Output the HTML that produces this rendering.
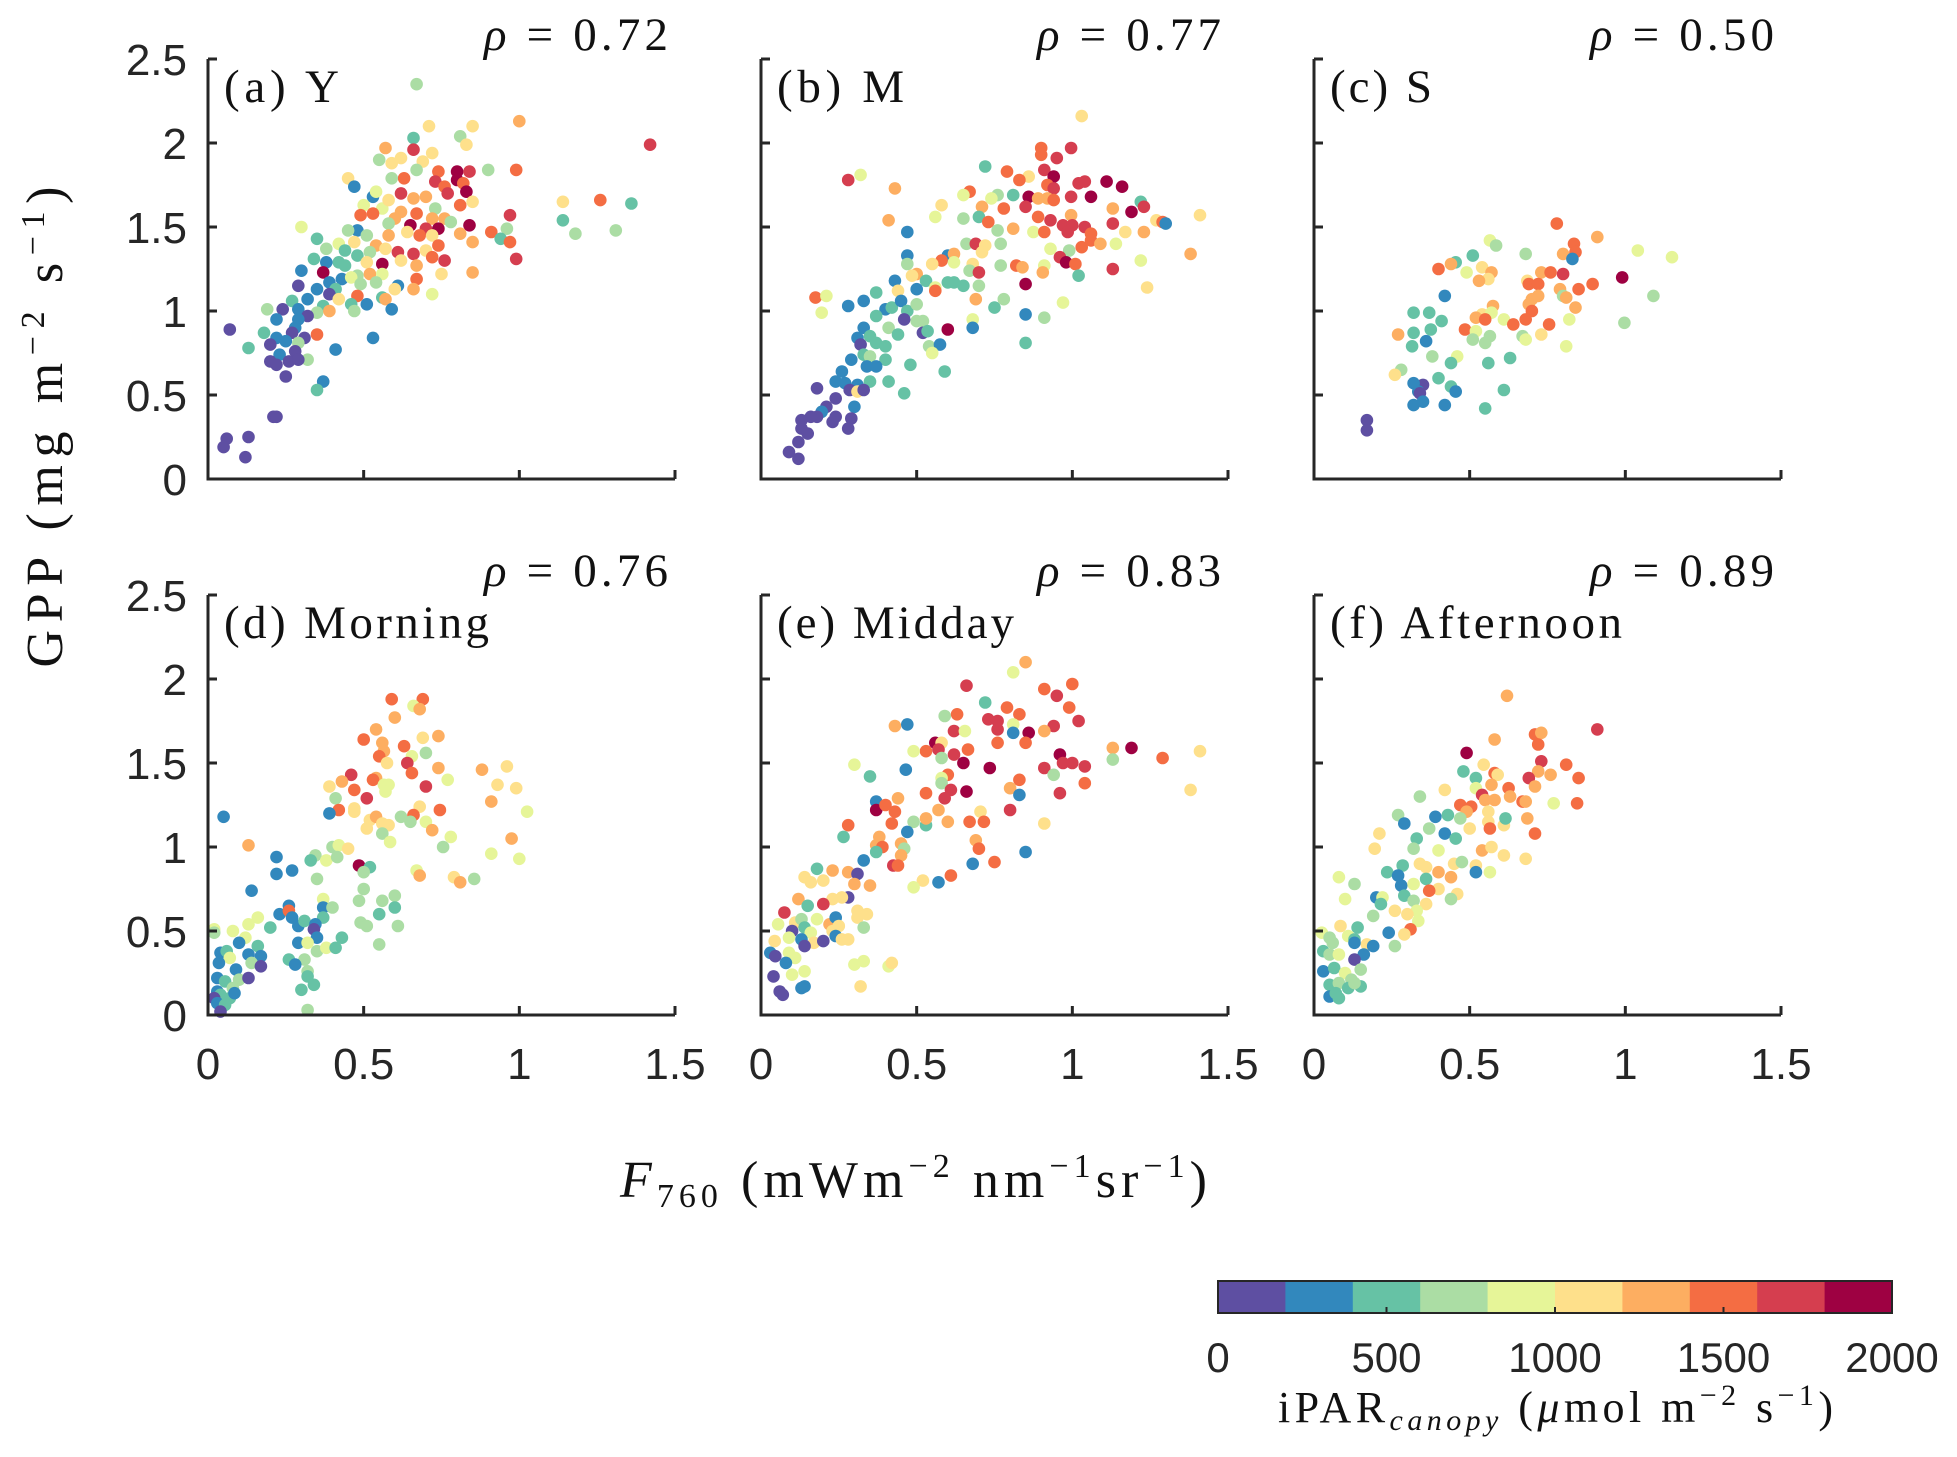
<!DOCTYPE html>
<html><head><meta charset="utf-8"><style>
html,body{margin:0;padding:0;background:#fff;}
svg{display:block;}
</style></head><body>
<svg id="fig" width="1957" height="1457" viewBox="0 0 1957 1457" xmlns="http://www.w3.org/2000/svg">
<g id="panels"></g>
<text transform="translate(62,427) rotate(-90)" text-anchor="middle" font-family="Liberation Serif, serif" font-size="52" fill="#111" textLength="481" lengthAdjust="spacing">GPP (mg m<tspan dy="-18" font-size="34">−2</tspan><tspan dy="18"> s</tspan><tspan dy="-18" font-size="34">−1</tspan><tspan dy="18">)</tspan></text>
<text x="620" y="1197" font-family="Liberation Serif, serif" font-size="52" fill="#111" textLength="587" lengthAdjust="spacing"><tspan font-style="italic">F</tspan><tspan dy="10" font-size="34">760</tspan><tspan dy="-10"> (mWm</tspan><tspan dy="-20" font-size="34">−2</tspan><tspan dy="20"> nm</tspan><tspan dy="-20" font-size="34">−1</tspan><tspan dy="20">sr</tspan><tspan dy="-20" font-size="34">−1</tspan><tspan dy="20">)</tspan></text>
<g id="colorbar"></g>
<text x="1278" y="1422" font-family="Liberation Serif, serif" font-size="44" fill="#111" textLength="555" lengthAdjust="spacing">iPAR<tspan dy="8" font-size="30" font-style="italic">canopy</tspan><tspan dy="-8">   (</tspan><tspan font-style="italic">μ</tspan>mol m<tspan dy="-17" font-size="30">−2</tspan><tspan dy="17"> s</tspan><tspan dy="-17" font-size="30">−1</tspan><tspan dy="17">)</tspan></text>
</svg>
<script>
const palette = ["#5e4fa2","#3288bd","#66c2a5","#abdda4","#e6f598","#fee08b","#fdae61","#f46d43","#d53e4f","#9e0142"];
const xTickLabels = ["0","0.5","1","1.5"];
const yTickLabels = ["0","0.5","1","1.5","2","2.5"];
const xTicks = [0,0.5,1,1.5];
const yTicks = [0,0.5,1,1.5,2,2.5];
const cbTicks = [0,500,1000,1500,2000];
const panelNames = ["(a)  Y","(b)  M","(c)  S","(d)  Morning","(e)  Midday","(f)  Afternoon"];
const rhoValues = ["0.72","0.77","0.50","0.76","0.83","0.89"];
// points: [F760, GPP, iPAR bin (0-9, each bin = 200 umol)]
const pointsA = [[.67,2.35,3],[1.0,2.13,6],[.85,2.10,5],[.71,2.10,5],[1.42,1.99,8],[.81,2.04,3],[.83,1.99,5],[.66,2.03,2],[.66,1.96,8],[.57,1.97,6],[.72,1.94,5],[.55,1.90,3],[.62,1.91,5],[.59,1.88,5],[.69,1.89,5],[.67,1.84,3],[.90,1.84,3],[.99,1.84,7],[.74,1.83,7],[.80,1.83,9],[.84,1.83,8],[.63,1.79,7],[.59,1.79,3],[.45,1.79,5],[.73,1.77,8],[.80,1.78,9],[.82,1.76,7],[.47,1.74,1],[.76,1.74,7],[.83,1.71,9],[.62,1.70,8],[.53,1.68,1],[.54,1.71,4],[.66,1.67,6],[.70,1.68,6],[.77,1.70,8],[.85,1.65,5],[.81,1.63,7],[1.14,1.65,5],[1.26,1.66,7],[1.36,1.64,2],[.56,1.61,4],[.50,1.63,4],[.58,1.66,5],[.73,1.61,3],[.67,1.58,7],[.62,1.59,6],[.49,1.57,7],[.53,1.58,7],[.60,1.55,6],[.76,1.55,6],[.72,1.55,6],[.78,1.53,3],[.97,1.57,8],[1.14,1.54,2],[1.18,1.46,3],[1.31,1.48,3],[.58,1.52,3],[.65,1.51,9],[.84,1.51,9],[.70,1.49,8],[.74,1.49,9],[.30,1.50,4],[.48,1.48,1],[.45,1.48,3],[.51,1.45,3],[.58,1.45,6],[.64,1.47,5],[.68,1.45,7],[.72,1.45,5],[.81,1.46,6],[.85,1.41,6],[.91,1.47,7],[.96,1.49,3],[.94,1.43,2],[.97,1.41,7],[.35,1.43,2],[.42,1.40,4],[.47,1.41,5],[.54,1.39,6],[.74,1.39,7],[.38,1.37,3],[.44,1.36,2],[.52,1.35,3],[.57,1.37,5],[.61,1.35,8],[.66,1.34,8],[.70,1.36,5],[.48,1.33,2],[.34,1.31,2],[.38,1.29,1],[.42,1.29,2],[.44,1.27,2],[.51,1.29,5],[.56,1.28,9],[.62,1.30,5],[.67,1.27,6],[.72,1.32,7],[.76,1.30,8],[.99,1.31,8],[.30,1.24,1],[.37,1.23,9],[.48,1.21,3],[.52,1.22,6],[.56,1.22,4],[.75,1.22,5],[.85,1.23,6],[.43,1.19,1],[.46,1.20,4],[.39,1.17,1],[.67,1.19,7],[.29,1.15,0],[.35,1.13,1],[.41,1.13,2],[.49,1.16,3],[.54,1.17,3],[.61,1.15,1],[.60,1.13,5],[.66,1.13,6],[.72,1.10,4],[.39,1.10,0],[.48,1.09,7],[.56,1.08,2],[.32,1.07,1],[.27,1.06,2],[.42,1.07,5],[.57,1.07,6],[.37,1.03,2],[.46,1.04,2],[.51,1.04,1],[.59,1.01,1],[.19,1.01,3],[.24,1.01,0],[.29,1.01,1],[.35,0.99,3],[.32,0.97,0],[.39,1.00,6],[.47,1.00,3],[.29,0.95,1],[.22,0.95,1],[.28,0.90,1],[.35,0.86,7],[.07,0.89,0],[.18,0.87,2],[.22,0.84,1],[.27,0.87,0],[.31,0.84,0],[.20,0.80,0],[.13,0.78,2],[.25,0.82,1],[.29,0.81,3],[.41,0.77,1],[.53,0.84,1],[.23,0.74,1],[.28,0.76,0],[.32,0.71,3],[.20,0.70,0],[.22,0.68,0],[.26,0.70,0],[.29,0.71,0],[.25,0.61,0],[.37,0.58,1],[.35,0.53,2],[.21,0.37,0],[.22,0.37,0],[.06,0.24,0],[.05,0.19,0],[.13,0.25,0],[.12,0.13,0]];
const pointsB = [[1.03,2.16,5],[.90,1.97,7],[.996,1.97,8],[.95,1.91,8],[.90,1.93,7],[.72,1.86,2],[.32,1.81,4],[.28,1.78,8],[.79,1.83,7],[.86,1.80,5],[.83,1.78,7],[.91,1.84,8],[.94,1.80,9],[.92,1.75,7],[.94,1.73,8],[1.02,1.76,8],[1.04,1.77,8],[1.11,1.77,9],[1.16,1.74,9],[.43,1.73,6],[.67,1.71,7],[.65,1.69,4],[.76,1.69,3],[.81,1.69,2],[.86,1.68,9],[.89,1.67,6],[.92,1.67,6],[.94,1.66,7],[.996,1.68,8],[1.06,1.68,9],[.74,1.67,4],[.58,1.63,5],[.71,1.62,6],[.78,1.61,7],[.85,1.62,8],[1.13,1.61,6],[1.19,1.59,9],[1.22,1.65,2],[1.23,1.62,8],[.56,1.56,4],[.70,1.56,2],[.65,1.55,3],[.89,1.56,7],[.93,1.54,8],[.996,1.57,6],[1.27,1.54,5],[1.29,1.53,7],[1.30,1.52,1],[1.41,1.57,5],[.41,1.54,6],[.47,1.47,1],[.73,1.53,7],[.81,1.49,6],[.76,1.48,3],[.875,1.47,4],[.91,1.47,7],[.97,1.51,8],[1.00,1.51,8],[1.04,1.50,8],[.985,1.47,8],[1.06,1.46,7],[1.13,1.52,8],[1.17,1.47,5],[1.23,1.47,6],[.66,1.40,3],[.69,1.40,8],[.72,1.39,5],[.77,1.40,3],[1.03,1.38,7],[1.06,1.42,7],[1.09,1.40,6],[1.14,1.40,4],[.60,1.33,1],[.62,1.34,6],[.71,1.35,5],[.93,1.37,4],[.99,1.36,3],[.47,1.33,1],[.58,1.30,7],[.62,1.29,4],[.55,1.28,5],[.68,1.28,5],[.77,1.27,3],[.82,1.27,7],[.84,1.26,6],[.91,1.27,4],[.96,1.32,8],[.98,1.29,9],[1.01,1.28,7],[1.22,1.30,4],[1.38,1.34,6],[.47,1.28,3],[.67,1.24,3],[.70,1.23,8],[.905,1.23,6],[1.13,1.25,8],[1.02,1.21,2],[.50,1.22,6],[.485,1.21,5],[.53,1.18,2],[.60,1.17,2],[.62,1.17,2],[.43,1.18,1],[.50,1.13,1],[.56,1.14,4],[.65,1.15,2],[.70,1.15,3],[.85,1.16,9],[1.24,1.14,5],[.44,1.12,5],[.56,1.12,7],[.69,1.07,6],[.175,1.08,7],[.21,1.09,4],[.37,1.11,2],[.33,1.06,1],[.28,1.03,1],[.195,0.99,4],[.40,1.01,1],[.42,1.02,2],[.45,1.06,1],[.47,1.00,2],[.50,1.04,3],[.78,1.07,3],[.75,1.02,2],[.97,1.05,4],[.85,0.98,1],[.91,0.96,3],[.37,0.97,2],[.46,0.95,0],[.50,0.94,3],[.52,0.94,3],[.68,0.95,4],[.68,0.90,1],[.60,0.89,9],[.33,0.90,1],[.41,0.90,3],[.44,0.86,2],[.52,0.87,0],[.535,0.88,2],[.31,0.84,1],[.35,0.85,2],[.37,0.81,2],[.32,0.80,0],[.40,0.79,2],[.54,0.79,3],[.575,0.80,1],[.55,0.75,4],[.85,0.81,2],[.33,0.74,2],[.35,0.73,3],[.29,0.71,1],[.40,0.71,2],[.37,0.67,1],[.34,0.67,1],[.48,0.68,2],[.59,0.64,2],[.26,0.64,1],[.24,0.58,1],[.27,0.57,1],[.31,0.56,1],[.35,0.58,2],[.41,0.58,2],[.285,0.53,0],[.31,0.52,5],[.33,0.53,0],[.46,0.51,2],[.18,0.54,0],[.24,0.48,0],[.30,0.43,1],[.21,0.43,0],[.195,0.40,1],[.18,0.37,0],[.16,0.37,0],[.13,0.35,0],[.24,0.37,0],[.23,0.34,0],[.29,0.36,0],[.28,0.30,0],[.13,0.30,0],[.15,0.27,0],[.12,0.22,0],[.09,0.16,0],[.12,0.12,0]];
const pointsC = [[.78,1.52,7],[.91,1.44,6],[.835,1.40,7],[.565,1.42,4],[.585,1.39,3],[1.04,1.36,4],[1.15,1.32,4],[.68,1.34,3],[.51,1.33,2],[.80,1.34,6],[.84,1.35,7],[.83,1.31,1],[.455,1.29,2],[.44,1.28,6],[.40,1.25,7],[.49,1.23,4],[.54,1.26,5],[.57,1.23,6],[.56,1.19,5],[.53,1.18,6],[.73,1.23,6],[.76,1.23,7],[.80,1.22,8],[.99,1.20,9],[.685,1.18,5],[.69,1.16,7],[.72,1.16,7],[.895,1.16,7],[.79,1.13,6],[.85,1.13,7],[1.09,1.09,3],[.42,1.09,1],[.80,1.09,3],[.81,1.08,6],[.70,1.07,6],[.72,1.09,6],[.69,1.04,6],[.575,1.03,6],[.70,1.00,7],[.84,1.02,6],[.32,0.99,2],[.37,0.99,2],[.54,0.98,5],[.57,0.99,4],[.52,0.96,6],[.55,0.95,7],[.61,0.95,4],[.68,0.95,7],[.82,0.95,4],[.41,0.94,2],[.997,0.93,3],[.755,0.92,7],[.64,0.92,7],[.485,0.89,7],[.52,0.88,4],[.375,0.89,2],[.32,0.87,2],[.27,0.86,6],[.73,0.86,5],[.36,0.82,1],[.565,0.85,3],[.67,0.85,3],[.68,0.83,4],[.51,0.83,3],[.55,0.81,3],[.315,0.79,2],[.81,0.79,4],[.38,0.73,3],[.46,0.73,4],[.63,0.72,2],[.44,0.69,2],[.56,0.69,2],[.28,0.65,3],[.26,0.62,5],[.40,0.60,2],[.35,0.56,0],[.32,0.57,1],[.335,0.52,1],[.34,0.51,0],[.44,0.55,2],[.455,0.52,1],[.61,0.53,2],[.32,0.44,1],[.35,0.46,1],[.42,0.44,1],[.55,0.42,2],[.17,0.35,0],[.17,0.29,0]];
const pointsD = [[.59,1.88,7],[.69,1.88,7],[.66,1.84,4],[.68,1.82,6],[.60,1.77,6],[.54,1.70,6],[.50,1.64,7],[.56,1.62,6],[.63,1.60,7],[.565,1.57,6],[.69,1.65,5],[.74,1.66,6],[.70,1.56,3],[.55,1.54,7],[.575,1.50,5],[.655,1.54,4],[.64,1.50,8],[.655,1.44,7],[.74,1.47,6],[.88,1.46,6],[.96,1.48,5],[.77,1.40,4],[.46,1.43,8],[.43,1.39,6],[.39,1.36,5],[.54,1.41,6],[.53,1.40,7],[.565,1.37,4],[.58,1.37,4],[.57,1.33,4],[.70,1.36,8],[.47,1.34,7],[.51,1.29,8],[.41,1.29,3],[.93,1.37,5],[.99,1.35,5],[.91,1.27,6],[.42,1.22,7],[.39,1.20,1],[.47,1.23,5],[.47,1.21,5],[.68,1.24,5],[.745,1.22,7],[1.025,1.21,4],[.05,1.18,1],[.52,1.16,5],[.54,1.18,6],[.56,1.14,5],[.58,1.13,5],[.51,1.11,5],[.62,1.18,3],[.66,1.19,7],[.65,1.15,3],[.70,1.15,4],[.72,1.10,6],[.56,1.08,3],[.585,1.03,4],[.78,1.06,4],[.755,1.00,3],[.975,1.05,6],[.13,1.01,6],[.40,1.00,3],[.42,1.01,4],[.45,0.99,5],[.22,0.94,1],[.345,0.95,3],[.38,0.92,4],[.415,0.94,3],[.33,0.92,2],[.91,0.96,4],[1.00,0.93,4],[.485,0.89,9],[.52,0.88,2],[.50,0.85,3],[.22,0.84,1],[.27,0.86,1],[.35,0.81,3],[.67,0.86,4],[.68,0.83,6],[.79,0.82,5],[.81,0.79,6],[.855,0.81,3],[.14,0.74,1],[.50,0.75,3],[.485,0.68,3],[.56,0.68,3],[.60,0.71,3],[.37,0.69,4],[.26,0.65,1],[.37,0.64,1],[.40,0.64,3],[.60,0.64,2],[.23,0.60,1],[.26,0.62,7],[.37,0.58,2],[.55,0.60,2],[.16,0.58,4],[.13,0.54,4],[.27,0.58,1],[.29,0.53,1],[.31,0.56,2],[.345,0.54,1],[.34,0.51,0],[.20,0.52,2],[.49,0.55,3],[.51,0.53,3],[.61,0.53,3],[.02,0.51,4],[.02,0.49,3],[.08,0.50,4],[.12,0.46,4],[.43,0.46,2],[.35,0.46,1],[.10,0.43,1],[.29,0.43,1],[.32,0.43,4],[.16,0.41,2],[.35,0.38,3],[.38,0.40,4],[.41,0.40,2],[.55,0.42,3],[.04,0.37,1],[.06,0.38,2],[.07,0.34,4],[.13,0.36,1],[.17,0.35,1],[.26,0.33,2],[.31,0.33,3],[.035,0.31,1],[.14,0.31,3],[.17,0.29,0],[.28,0.30,1],[.09,0.27,1],[.32,0.26,3],[.03,0.22,1],[.055,0.20,2],[.10,0.21,3],[.13,0.22,0],[.32,0.23,2],[.08,0.16,3],[.34,0.18,2],[.30,0.15,2],[.03,0.14,1],[.04,0.12,2],[.02,0.10,0],[.07,0.10,2],[.085,0.13,1],[.03,0.07,1],[.055,0.06,2],[.04,0.02,0],[.32,0.03,3]];
const pointsE = [[.85,2.10,6],[.81,2.04,4],[.66,1.96,8],[.91,1.94,7],[1.00,1.97,7],[.95,1.90,8],[.99,1.83,7],[1.02,1.75,8],[.72,1.86,2],[.79,1.83,7],[.83,1.79,7],[.59,1.78,3],[.63,1.79,7],[.73,1.76,8],[.76,1.75,8],[.76,1.70,8],[.81,1.73,4],[.81,1.68,1],[.86,1.68,9],[.94,1.72,8],[.91,1.69,6],[.43,1.72,6],[.47,1.73,1],[.62,1.69,8],[.655,1.69,4],[.56,1.62,9],[.58,1.62,5],[.53,1.57,7],[.57,1.58,8],[.62,1.55,8],[.665,1.58,7],[.76,1.62,7],[.85,1.62,7],[.58,1.53,3],[.65,1.50,9],[.735,1.47,9],[.96,1.55,9],[.49,1.57,4],[.30,1.49,4],[.465,1.46,1],[.35,1.42,2],[.97,1.50,8],[1.00,1.50,8],[1.04,1.48,8],[.91,1.47,8],[.94,1.43,3],[1.13,1.59,6],[1.13,1.52,3],[1.19,1.59,9],[1.29,1.53,7],[1.41,1.57,5],[1.38,1.34,5],[1.04,1.38,7],[.96,1.32,8],[.83,1.40,7],[.80,1.35,6],[.83,1.31,1],[.60,1.43,7],[.58,1.41,4],[.58,1.38,3],[.61,1.34,8],[.59,1.29,8],[.66,1.33,9],[.53,1.32,7],[.44,1.29,6],[.37,1.27,1],[.37,1.22,9],[.40,1.25,7],[.43,1.21,7],[.42,1.14,7],[.57,1.22,6],[.705,1.21,5],[.80,1.22,8],[.67,1.15,7],[.716,1.15,7],[.60,1.15,6],[.53,1.13,2],[.49,1.15,3],[.53,1.17,6],[.28,1.13,7],[.91,1.14,5],[.47,1.09,1],[.265,1.06,2],[.38,1.06,6],[.37,1.01,6],[.39,1.00,7],[.45,1.02,6],[.46,0.99,3],[.45,0.95,6],[.69,1.04,6],[.70,0.99,7],[.37,0.97,2],[.33,0.92,1],[.85,0.97,1],[.75,0.91,7],[.425,0.89,8],[.44,0.89,7],[.68,0.90,1],[.61,0.83,7],[.57,0.79,1],[.52,0.80,5],[.49,0.76,4],[.18,0.87,2],[.23,0.86,6],[.28,0.85,6],[.31,0.84,0],[.14,0.82,5],[.16,0.79,5],[.20,0.80,5],[.30,0.78,6],[.35,0.77,6],[.12,0.69,6],[.28,0.70,0],[.23,0.69,5],[.26,0.70,5],[.15,0.65,2],[.20,0.66,8],[.075,0.61,8],[.31,0.62,5],[.31,0.58,5],[.34,0.60,5],[.055,0.54,4],[.11,0.55,5],[.13,0.57,3],[.18,0.57,4],[.22,0.54,6],[.24,0.58,1],[.14,0.52,2],[.25,0.53,5],[.33,0.52,3],[.10,0.50,0],[.16,0.49,4],[.23,0.50,5],[.044,0.44,5],[.09,0.46,4],[.13,0.45,1],[.17,0.43,5],[.20,0.44,0],[.24,0.47,1],[.26,0.45,5],[.28,0.45,5],[.03,0.37,1],[.046,0.35,0],[.09,0.37,4],[.11,0.34,4],[.14,0.41,0],[.08,0.31,1],[.30,0.30,4],[.33,0.32,4],[.41,0.29,4],[.42,0.31,5],[.14,0.26,4],[.10,0.24,4],[.04,0.23,0],[.13,0.16,1],[.14,0.17,1],[.32,0.17,5],[.06,0.14,0],[.07,0.12,0]];
const pointsF = [[.62,1.90,6],[.91,1.70,8],[.71,1.67,7],[.73,1.68,6],[.72,1.61,7],[.58,1.64,6],[.49,1.56,9],[.73,1.51,8],[.81,1.49,7],[.85,1.41,7],[.545,1.49,5],[.58,1.44,7],[.48,1.45,2],[.72,1.45,6],[.76,1.43,6],[.69,1.41,8],[.52,1.41,2],[.59,1.43,5],[.42,1.34,5],[.34,1.30,3],[.52,1.35,4],[.57,1.37,6],[.625,1.35,7],[.71,1.36,6],[.54,1.31,8],[.55,1.28,6],[.58,1.28,6],[.63,1.30,6],[.67,1.27,7],[.68,1.27,6],[.77,1.26,4],[.845,1.26,7],[.47,1.25,7],[.505,1.24,7],[.49,1.21,6],[.56,1.21,5],[.27,1.19,3],[.29,1.14,1],[.39,1.18,1],[.43,1.19,2],[.47,1.17,3],[.56,1.15,5],[.61,1.13,5],[.615,1.17,2],[.685,1.17,6],[.37,1.11,3],[.42,1.08,1],[.455,1.05,2],[.33,1.05,2],[.50,1.11,5],[.565,1.11,7],[.71,1.08,7],[.21,1.08,5],[.195,0.99,5],[.32,0.99,3],[.40,0.98,4],[.54,0.98,6],[.57,1.00,5],[.61,0.95,5],[.68,0.93,5],[.08,0.82,4],[.13,0.78,3],[.235,0.85,2],[.285,0.89,2],[.27,0.83,1],[.28,0.77,1],[.32,0.78,4],[.34,0.90,5],[.36,0.88,5],[.36,0.81,2],[.40,0.85,6],[.44,0.82,6],[.45,0.90,5],[.475,0.91,3],[.52,0.89,5],[.52,0.85,1],[.565,0.85,4],[.40,0.75,5],[.46,0.72,5],[.44,0.69,3],[.10,0.69,4],[.20,0.70,1],[.22,0.70,4],[.215,0.66,2],[.29,0.71,2],[.32,0.68,3],[.36,0.66,5],[.33,0.62,4],[.37,0.74,7],[.26,0.62,5],[.30,0.60,5],[.19,0.59,3],[.335,0.56,4],[.31,0.51,7],[.29,0.48,5],[.24,0.49,1],[.085,0.53,5],[.14,0.52,2],[.025,0.49,4],[.05,0.46,3],[.11,0.47,4],[.13,0.45,2],[.17,0.42,5],[.19,0.41,1],[.06,0.43,3],[.03,0.38,2],[.05,0.36,3],[.08,0.36,4],[.13,0.43,1],[.16,0.36,1],[.26,0.41,3],[.13,0.33,0],[.15,0.27,3],[.03,0.26,1],[.065,0.28,2],[.10,0.25,4],[.12,0.21,3],[.05,0.18,2],[.08,0.19,3],[.11,0.16,2],[.15,0.17,2],[.05,0.11,1],[.07,0.13,2],[.08,0.10,2],[.13,0.19,3]];
const allPoints = [pointsA,pointsB,pointsC,pointsD,pointsE,pointsF];

const NS = "http://www.w3.org/2000/svg";
const lefts = [208,761,1314], bottoms = [479,1015];
const labelWidths = [115,127,102,265,237,292];
const W = 467, H = 420, X_MAX = 1.5, Y_MAX = 2.5;
function mk(tag, attrs, parent){ const e=document.createElementNS(NS,tag); for(const k in attrs) e.setAttribute(k,attrs[k]); parent.appendChild(e); return e; }
function binColor(b){ return palette[Math.max(0,Math.min(9,b))]; }

const root = document.getElementById('panels');
allPoints.forEach((pts, i) => {
  const L = lefts[i%3], B = bottoms[Math.floor(i/3)];
  const xs = v => L + v/X_MAX*W;
  const ys = v => B - v/Y_MAX*H;
  const g = mk('g',{},root);
  
  
  const dots = mk('g',{},g);
  
  
  pts.forEach(p => {
    const c = mk('circle',{cx:xs(p[0]).toFixed(1),cy:ys(p[1]).toFixed(1),r:6.3,fill:binColor(p[2])},dots);
    
    
  });
  const ax = mk('path',{d:`M${L},${ys(Y_MAX)}V${B}H${xs(X_MAX)}`,fill:'none',stroke:'#262626','stroke-width':3},g);
  
  
  xTicks.forEach((t,k) => {
    mk('line',{x1:xs(t),x2:xs(t),y1:B,y2:B-9,stroke:'#262626','stroke-width':3},g);
    if (i >= 3) {
      const tx = mk('text',{x:xs(t),y:B+64,'text-anchor':'middle','font-family':'Liberation Sans, sans-serif','font-size':44,fill:'#262626'},g);
      tx.textContent = xTickLabels[k];
      
      
    }
  });
  yTicks.forEach((t,k) => {
    mk('line',{x1:L,x2:L+9,y1:ys(t),y2:ys(t),stroke:'#262626','stroke-width':3},g);
    if (i%3 === 0) {
      const ty = mk('text',{x:L-21,y:ys(t)+16,'text-anchor':'end','font-family':'Liberation Sans, sans-serif','font-size':44,fill:'#262626'},g);
      ty.textContent = yTickLabels[k];
      
      
    }
  });
  const lab = mk('text',{x:L+16,y:ys(Y_MAX)+43,'font-family':'Liberation Serif, serif','font-size':47,fill:'#111','xml:space':'preserve',textLength:labelWidths[i],lengthAdjust:'spacing'},g);
  lab.textContent = panelNames[i];
  
  
  const rho = mk('text',{x:L+W-191,y:ys(Y_MAX)-9,'font-family':'Liberation Serif, serif','font-size':47,fill:'#111',textLength:184,lengthAdjust:'spacing'},g);
  rho.innerHTML = '<tspan font-style="italic">ρ</tspan> = ' + rhoValues[i];
  
  
});

// colorbar
const cb = document.getElementById('colorbar');
const cbL = 1218, cbR = 1892, cbT = 1281, cbB = 1313;
const cbX = v => cbL + v/2000*(cbR-cbL);
palette.forEach((col,k) => {
  const r = mk('rect',{x:cbX(k*200),y:cbT,width:cbX((k+1)*200)-cbX(k*200)+0.5,height:cbB-cbT,fill:col},cb);
  
  
});
mk('rect',{x:cbL,y:cbT,width:cbR-cbL,height:cbB-cbT,fill:'none',stroke:'#262626','stroke-width':2},cb);
cbTicks.forEach(t => {
  mk('line',{x1:cbX(t),x2:cbX(t),y1:cbB,y2:cbB-6,stroke:'#262626','stroke-width':2},cb);
  const tl = mk('text',{x:cbX(t),y:1372,'text-anchor':'middle','font-family':'Liberation Sans, sans-serif','font-size':42,fill:'#262626'},cb);
  tl.textContent = String(t);
  
  
});
</script>
</body></html>
